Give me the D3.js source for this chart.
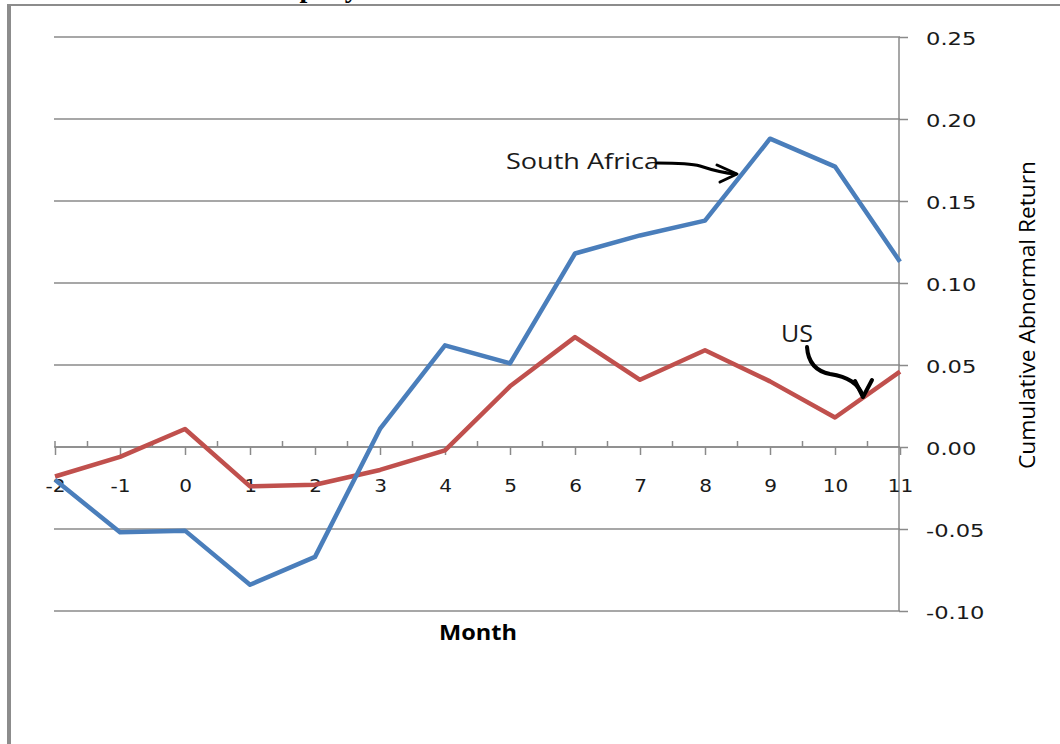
<!DOCTYPE html>
<html>
<head>
<meta charset="utf-8">
<script src="https://cdn.jsdelivr.net/npm/d3@7"></script>
<style>
  html, body { margin: 0; padding: 0; background: #fff; }
  svg { display: block; }
</style>
</head>
<body>
<svg id="chart" width="1060" height="744"></svg>
<script>
// Event months relative to the announcement
const months = [-2, -1, 0, 1, 2, 3, 4, 5, 6, 7, 8, 9, 10, 11];
// Cumulative abnormal returns by month
const southAfrica = [-0.020, -0.052, -0.051, -0.084, -0.067, 0.011, 0.062, 0.051, 0.118, 0.129, 0.138, 0.188, 0.171, 0.113];
const us = [-0.018, -0.006, 0.011, -0.024, -0.023, -0.014, -0.002, 0.037, 0.067, 0.041, 0.059, 0.040, 0.018, 0.046];
// Value axis ticks
const yTicks = [-0.10, -0.05, 0.00, 0.05, 0.10, 0.15, 0.20, 0.25];
const halfMonths = [-1.5, -0.5, 0.5, 1.5, 2.5, 3.5, 4.5, 5.5, 6.5, 7.5, 8.5, 9.5, 10.5];

const svg = d3.select("#chart");
const gridColor = "#8a8a8a";
const fmt = d => d3.format(".2f")(d).replace("\u2212", "-");

const x = d3.scaleLinear().domain([-2, 11]).range([55, 900]);
const y = d3.scaleLinear().domain([-0.10, 0.25]).range([611, 37]);

// Widen glyphs horizontally by a factor, keeping their anchor
function stretch(sel, factor) {
  sel.each(function () {
    const w = this.getComputedTextLength();
    d3.select(this).attr("textLength", w * factor).attr("lengthAdjust", "spacingAndGlyphs");
  });
}

// Frame around the figure
svg.append("line").attr("x1", 7).attr("x2", 1060).attr("y1", 5).attr("y2", 5)
  .attr("stroke", "#8c8c8c").attr("stroke-width", 2);
svg.append("line").attr("x1", 9).attr("x2", 9).attr("y1", 4).attr("y2", 744)
  .attr("stroke", "#8c8c8c").attr("stroke-width", 4);

// Heading text running off the top edge
svg.append("text").attr("x", 242).attr("y", -3)
  .attr("font-family", "Liberation Serif").attr("font-weight", "bold")
  .attr("font-size", 28).attr("fill", "#000").text("Company");

// Horizontal gridlines
svg.append("g").selectAll("line").data(yTicks).join("line")
  .attr("x1", 54).attr("x2", 900)
  .attr("y1", d => y(d)).attr("y2", d => y(d))
  .attr("stroke", gridColor).attr("stroke-width", 1.5);

// Right value axis
const yAxis = svg.append("g").attr("transform", "translate(899,0)")
  .call(d3.axisRight(y).tickValues(yTicks).tickSize(9).tickPadding(18)
    .tickFormat(fmt));
yAxis.select(".domain").attr("stroke", gridColor).attr("stroke-width", 1.5)
  .attr("d", `M0,${y(0.25)}V${y(-0.10)}`);
yAxis.selectAll(".tick line").attr("stroke", gridColor).attr("stroke-width", 1.5);
yAxis.selectAll(".tick text")
  .attr("font-family", "DejaVu Sans").attr("font-size", 17).attr("fill", "#1a1a1a")
  .attr("dy", "0.42em")
  .call(stretch, 1.33);

// Category axis along zero: month ticks point down, half-month ticks point up
const xAxis = svg.append("g").attr("transform", `translate(0,${y(0)})`)
  .call(d3.axisBottom(x).tickValues(months).tickSize(8).tickPadding(25)
    .tickFormat(d => d < 0 ? "-" + Math.abs(d) : String(d)));
xAxis.select(".domain").attr("stroke", gridColor).attr("stroke-width", 1.5)
  .attr("d", `M${x(-2)},0H${x(11)}`);
xAxis.selectAll(".tick line").attr("stroke", gridColor).attr("stroke-width", 1.5);
xAxis.selectAll(".tick text")
  .attr("font-family", "DejaVu Sans").attr("font-size", 17).attr("fill", "#1a1a1a")
  .call(stretch, 1.18);
xAxis.append("g").selectAll("line").data(halfMonths.concat([-2])).join("line")
  .attr("x1", d => x(d)).attr("x2", d => x(d)).attr("y1", 0).attr("y2", -6)
  .attr("stroke", gridColor).attr("stroke-width", 1.5);

// Series lines
const line = d3.line().x((d, i) => x(months[i])).y(d => y(d));
svg.append("path").datum(us).attr("d", line)
  .attr("fill", "none").attr("stroke", "#c0504d").attr("stroke-width", 4.5)
  .attr("stroke-linejoin", "round");
svg.append("path").datum(southAfrica).attr("d", line)
  .attr("fill", "none").attr("stroke", "#4a7ebb").attr("stroke-width", 4.5)
  .attr("stroke-linejoin", "round");

// Axis titles
svg.append("text").attr("x", 478).attr("y", 640).attr("text-anchor", "middle")
  .attr("font-family", "Open Sans").attr("font-weight", "bold").attr("font-size", 21)
  .attr("fill", "#000")
  .attr("textLength", 78).attr("lengthAdjust", "spacingAndGlyphs")
  .text("Month");
svg.append("text").attr("transform", "translate(1035,315) rotate(-90)")
  .attr("text-anchor", "middle").attr("font-family", "Open Sans")
  .attr("font-size", 22).attr("fill", "#000")
  .attr("textLength", 308).attr("lengthAdjust", "spacingAndGlyphs")
  .text("Cumulative Abnormal Return");

// Hand-drawn call-outs naming each series
svg.append("text").attr("x", 506).attr("y", 169).attr("font-family", "Open Sans")
  .attr("font-size", 22).attr("fill", "#1a1a1a")
  .attr("textLength", 153).attr("lengthAdjust", "spacingAndGlyphs")
  .text("South Africa");
svg.append("path")
  .attr("d", "M657,163 C675,163 690,163 700,166 C712,170 722,173 736,174")
  .attr("fill", "none").attr("stroke", "#000").attr("stroke-width", 3).attr("stroke-linecap", "round");
svg.append("path")
  .attr("d", "M717,165 L737,174 L720,182")
  .attr("fill", "none").attr("stroke", "#000").attr("stroke-width", 3)
  .attr("stroke-linecap", "round").attr("stroke-linejoin", "round");

svg.append("text").attr("x", 781).attr("y", 342).attr("font-family", "Open Sans")
  .attr("font-size", 23).attr("fill", "#1a1a1a")
  .attr("textLength", 32).attr("lengthAdjust", "spacingAndGlyphs")
  .text("US");
svg.append("path")
  .attr("d", "M807,347 C808,362 815,371 830,374 C848,377 858,383 863,396")
  .attr("fill", "none").attr("stroke", "#000").attr("stroke-width", 4).attr("stroke-linecap", "round");
svg.append("path")
  .attr("d", "M855,381 L863,397 L872,380")
  .attr("fill", "none").attr("stroke", "#000").attr("stroke-width", 4)
  .attr("stroke-linecap", "round").attr("stroke-linejoin", "round");
</script>
</body>
</html>
